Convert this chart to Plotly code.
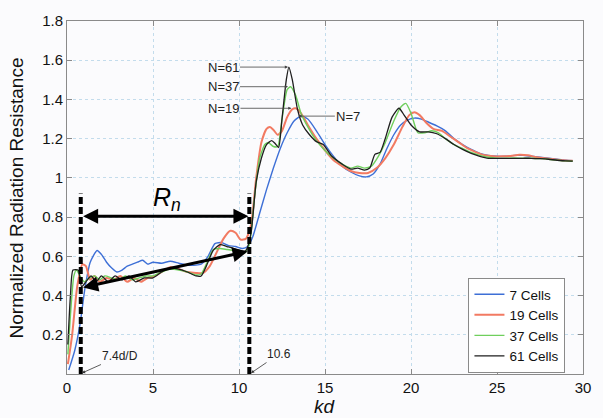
import plotly.graph_objects as go

# ---------------- data ----------------
x7 = [0.1, 0.45, 0.75, 1.05, 1.35, 1.75, 2.0, 2.3, 2.6, 2.9, 3.2, 3.5, 3.8, 4.1, 4.4, 4.7, 5.0, 5.5, 6.0,
      6.5, 7.0, 7.5, 7.8, 8.2, 8.6, 9.0, 9.4, 9.8, 10.2, 10.5, 10.8, 11.2, 11.6, 12.0, 12.4, 12.8, 13.2,
      13.6, 14.0, 14.5, 15.0, 15.5, 16.0, 16.5, 17.0, 17.4, 17.8, 18.2, 18.6, 19.0, 19.4, 19.8, 20.2,
      20.6, 21.0, 21.5, 22.0, 22.5, 23.0, 23.5, 24.0, 24.5, 25.0, 25.5, 26.0, 26.5, 27.0, 27.5, 28.0,
      28.5, 29.0, 29.4]
y7 = [0.02, 0.12, 0.25, 0.44, 0.57, 0.63, 0.61, 0.57, 0.54, 0.52, 0.53, 0.55, 0.56, 0.57, 0.58, 0.56, 0.57,
      0.565, 0.575, 0.565, 0.555, 0.555, 0.56, 0.6, 0.665, 0.67, 0.655, 0.65, 0.64, 0.65, 0.7, 0.82, 0.94,
      1.05, 1.15, 1.23, 1.29, 1.315, 1.3, 1.24, 1.17, 1.11, 1.06, 1.03, 1.01, 1.005, 1.02, 1.07, 1.15, 1.22,
      1.27, 1.295, 1.305, 1.3, 1.285, 1.265, 1.24, 1.2, 1.17, 1.145, 1.125, 1.115, 1.11, 1.11, 1.115, 1.115,
      1.11, 1.105, 1.1, 1.095, 1.09, 1.088]

x19 = [0.05, 0.3, 0.6, 0.9, 1.1, 1.35, 1.6, 1.9, 2.3, 2.7, 3.1, 3.5, 3.9, 4.3, 4.7, 5.1, 5.5, 6.0, 6.5,
       7.0, 7.5, 7.9, 8.3, 8.7, 9.1, 9.5, 9.8, 10.1, 10.4, 10.7, 11.0, 11.3, 11.6, 11.8, 12.0, 12.25,
       12.5, 12.8, 13.1, 13.3, 13.6, 14.0, 14.5, 15.0, 15.5, 16.0, 16.5, 17.0, 17.5, 18.0, 18.5, 19.0,
       19.5, 19.9, 20.2, 20.5, 20.9, 21.3, 21.8, 22.3, 22.8, 23.3, 23.8, 24.3, 24.8, 25.3, 25.8, 26.3,
       26.8, 27.3, 27.8, 28.3, 28.8, 29.4]
y19 = [0.05, 0.2, 0.45, 0.56, 0.55, 0.48, 0.5, 0.47, 0.49, 0.48, 0.5, 0.47, 0.49, 0.47, 0.49, 0.5, 0.52,
       0.545, 0.535, 0.52, 0.515, 0.515, 0.55, 0.62, 0.69, 0.73, 0.72, 0.685, 0.69, 0.76, 1.0, 1.18, 1.25,
       1.26, 1.245, 1.22, 1.24, 1.31, 1.35, 1.355, 1.33, 1.27, 1.2, 1.14, 1.09, 1.06, 1.035, 1.025, 1.025,
       1.05, 1.1, 1.17, 1.26, 1.32, 1.335, 1.32, 1.28, 1.25, 1.24, 1.21, 1.18, 1.15, 1.13, 1.115, 1.11,
       1.11, 1.112, 1.118, 1.115, 1.105, 1.1, 1.095, 1.09, 1.087]

x37 = [0.05, 0.2, 0.4, 0.55, 0.75, 1.0, 1.3, 1.6, 1.9, 2.2, 2.6, 3.0, 3.4, 3.8, 4.2, 4.6, 5.0, 5.5, 6.0,
       6.5, 7.0, 7.5, 7.8, 8.1, 8.5, 8.9, 9.3, 9.7, 10.0, 10.3, 10.6, 10.9, 11.2, 11.5, 11.7, 12.0, 12.25,
       12.5, 12.8, 13.0, 13.3, 13.6, 14.0, 14.5, 15.0, 15.5, 16.0, 16.5, 16.9, 17.3, 17.7, 18.1, 18.5,
       19.0, 19.4, 19.7, 20.0, 20.4, 20.8, 21.2, 21.6, 22.0, 22.5, 23.0, 23.5, 24.0, 24.5, 25.0, 25.5,
       26.0, 26.5, 27.0, 27.5, 28.0, 28.5, 29.0, 29.4]
y37 = [0.1, 0.3, 0.5, 0.53, 0.5, 0.47, 0.49, 0.5, 0.48, 0.5, 0.49, 0.48, 0.5, 0.48, 0.49, 0.5, 0.5, 0.52,
       0.535, 0.53, 0.52, 0.505, 0.51, 0.56, 0.635, 0.64, 0.635, 0.63, 0.625, 0.615, 0.66, 0.9, 1.1, 1.17,
       1.18, 1.16, 1.16, 1.3, 1.45, 1.465, 1.42, 1.33, 1.26, 1.19, 1.14, 1.1, 1.07, 1.05, 1.06, 1.05, 1.06,
       1.11, 1.18, 1.29, 1.36, 1.38, 1.33, 1.23, 1.23, 1.24, 1.23, 1.2, 1.17, 1.15, 1.13, 1.115, 1.105,
       1.1, 1.1, 1.102, 1.1, 1.1, 1.098, 1.095, 1.09, 1.087, 1.085]

x61 = [0.05, 0.2, 0.35, 0.65, 0.85, 1.1, 1.4, 1.7, 2.0, 2.4, 2.8, 3.2, 3.6, 4.0, 4.5, 5.0, 5.5, 6.0, 6.5,
       7.0, 7.5, 7.8, 8.1, 8.5, 8.9, 9.3, 9.7, 10.1, 10.4, 10.7, 11.0, 11.3, 11.6, 11.9, 12.1, 12.3, 12.5,
       12.75, 12.9, 13.1, 13.4, 13.7, 14.1, 14.5, 14.9, 15.4, 16.0, 16.5, 16.9, 17.3, 17.6, 17.9, 18.2,
       18.5, 18.9, 19.3, 19.6, 20.0, 20.5, 21.0, 21.5, 22.0, 22.5, 23.0, 23.5, 24.0, 24.5, 25.0, 25.5,
       26.0, 26.5, 27.0, 27.5, 28.0, 28.5, 29.0, 29.4]
y61 = [0.15, 0.4, 0.53, 0.53, 0.445, 0.47, 0.5, 0.47, 0.5, 0.47, 0.5, 0.48, 0.5, 0.47, 0.49, 0.49, 0.52,
       0.54, 0.535, 0.52, 0.5, 0.5, 0.55, 0.63, 0.66, 0.65, 0.64, 0.625, 0.63, 0.72, 0.98, 1.1, 1.17, 1.19,
       1.175, 1.155, 1.3, 1.5, 1.565, 1.5, 1.35, 1.27, 1.22, 1.185, 1.17, 1.11, 1.07, 1.045, 1.05, 1.04,
       1.05, 1.12, 1.13, 1.2, 1.31, 1.355, 1.32, 1.27, 1.235, 1.235, 1.225, 1.2, 1.17, 1.145, 1.125, 1.11,
       1.1, 1.1, 1.1, 1.1, 1.1, 1.1, 1.098, 1.095, 1.09, 1.087, 1.085]

series_names = ["7 Cells", "19 Cells", "37 Cells", "61 Cells"]
series_colors = ["#3d6fd6", "#f27a62", "#6fcf5c", "#1e1e1e"]
series_widths = [1.4, 2.0, 1.4, 1.3]

x_ticks = [0, 5, 10, 15, 20, 25, 30]
y_ticks = [0.2, 0.4, 0.6, 0.8, 1.0, 1.2, 1.4, 1.6, 1.8]
y_tick_text = ["0.2", "0.4", "0.6", "0.8", "1", "1.2", "1.4", "1.6", "1.8"]

band_edges = [0.8, 10.6]          # dashed markers
band_top = 0.92
rn_level = 0.805
slope_start = [0.85, 0.44]
slope_end = [10.5, 0.625]

peak_labels = ["N=61", "N=37", "N=19", "N=7"]
peak_x = [12.85, 12.85, 13.05, 13.45]
peak_y = [1.565, 1.465, 1.355, 1.315]
peak_ax = [-65, -65, -68, 50]

# ---------------- figure ----------------
FONT = "Liberation Sans, Arial, sans-serif"
fig = go.Figure()
for xs, ys, name, col, w in zip([x7, x19, x37, x61], [y7, y19, y37, y61],
                                series_names, series_colors, series_widths):
    fig.add_trace(go.Scatter(x=xs, y=ys, mode="lines", name=name,
                             line=dict(color=col, width=w, shape="spline", smoothing=0.6)))

# dashed vertical markers
for xe in band_edges:
    fig.add_shape(type="line", x0=xe, x1=xe, y0=0, y1=band_top, xref="x", yref="y",
                  line=dict(color="black", width=4, dash="7px,3px"))

# R_n double arrow
fig.add_annotation(x=band_edges[1] - 0.05, y=rn_level, ax=band_edges[0] + 0.05, ay=rn_level,
                   xref="x", yref="y", axref="x", ayref="y", text="", showarrow=True,
                   arrowhead=2, startarrowhead=2, arrowside="end+start", arrowsize=1,
                   startarrowsize=1, arrowwidth=3, arrowcolor="black")
# slanted double arrow
fig.add_annotation(x=slope_end[0], y=slope_end[1], ax=slope_start[0], ay=slope_start[1],
                   xref="x", yref="y", axref="x", ayref="y", text="", showarrow=True,
                   arrowhead=2, startarrowhead=2, arrowside="end+start", arrowsize=1,
                   startarrowsize=1, arrowwidth=3, arrowcolor="black")
# R_n label
fig.add_annotation(x=5.8, y=0.89, xref="x", yref="y", text="<i>R<sub>n</sub></i>",
                   showarrow=False, font=dict(family=FONT, size=25, color="black"))

# small labels with arrows
fig.add_annotation(x=0.87, y=0.005, xref="x", yref="y", text="7.4d/D", showarrow=True,
                   ax=38, ay=-17, arrowhead=2, arrowsize=0.8, arrowwidth=0.8, arrowcolor="#333",
                   font=dict(family=FONT, size=12, color="#222"))
fig.add_annotation(x=10.7, y=0.005, xref="x", yref="y", text="10.6", showarrow=True,
                   ax=28, ay=-19, arrowhead=2, arrowsize=0.8, arrowwidth=0.8, arrowcolor="#333",
                   font=dict(family=FONT, size=12, color="#222"))

for lab, px, py, pax in zip(peak_labels, peak_x, peak_y, peak_ax):
    fig.add_annotation(x=px, y=py, xref="x", yref="y", text=lab, showarrow=True,
                       ax=pax, ay=0, arrowhead=2, arrowsize=0.8, arrowwidth=0.8,
                       arrowcolor="#444", font=dict(family=FONT, size=13, color="#222"))

# axis titles as annotations
fig.add_annotation(x=-0.097, y=0.5, xref="paper", yref="paper", text="Normalized Radiation Resistance",
                   textangle=-90, showarrow=False, xanchor="center", yanchor="middle",
                   font=dict(family=FONT, size=19, color="#111"))
fig.add_annotation(x=15, y=-0.092, xref="x", yref="paper", text="<i>kd</i>", showarrow=False,
                   xanchor="center", yanchor="middle", font=dict(family=FONT, size=19, color="#111"))

axis_common = dict(showline=True, linecolor="#8a8a8a", linewidth=1, mirror="ticks",
                   ticks="inside", ticklen=5, tickcolor="#8a8a8a",
                   showgrid=True, gridcolor="#c3dcec", griddash="dot", gridwidth=1,
                   zeroline=False, tickfont=dict(family=FONT, size=15, color="#111"))
fig.update_xaxes(range=[0, 30], tickvals=x_ticks, **axis_common)
fig.update_yaxes(range=[0, 1.8], tickvals=y_ticks, ticktext=y_tick_text, **axis_common)

fig.update_layout(
    width=603, height=418,
    margin=dict(l=67, r=19, t=15, b=44),
    paper_bgcolor="#fbfbfd", plot_bgcolor="#fbfbfd",
    font=dict(family=FONT),
    legend=dict(x=0.778, y=0.272, xanchor="left", yanchor="top",
                bgcolor="white", bordercolor="#8a8a8a", borderwidth=1,
                font=dict(family=FONT, size=13.5, color="#111"),
                tracegroupgap=0, itemwidth=30),
    showlegend=True,
)

fig.write_html("out.html")
